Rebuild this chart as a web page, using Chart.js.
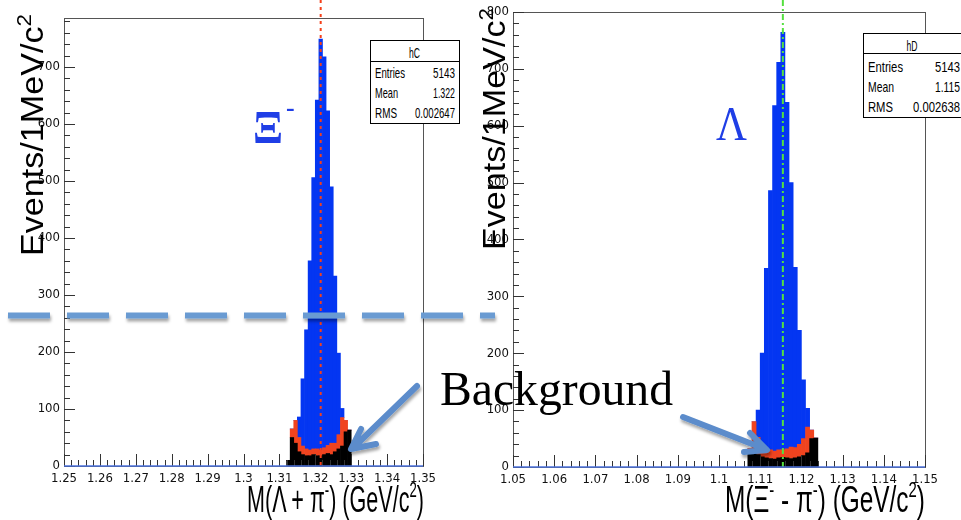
<!DOCTYPE html>
<html>
<head>
<meta charset="utf-8">
<script src="https://cdn.jsdelivr.net/npm/chart.js@4.4.1/dist/chart.umd.min.js"></script>
<style>
  body { margin: 0; background: #fff; }
  #wrap { position: relative; width: 961px; height: 520px; overflow: hidden; }
  canvas { position: absolute; top: 0; }
  #left { left: 0; }
  #right { left: 480px; }
  #notes { position: absolute; left: 0; top: 0; pointer-events: none; }
  #notes text { font-family: 'Liberation Sans', Arial, sans-serif; }
  #notes .serif { font-family: 'Liberation Serif', 'Times New Roman', serif; }
</style>
</head>
<body>
<div id="wrap">
<canvas id="left" width="480" height="520"></canvas>
<canvas id="right" width="481" height="520"></canvas>

<svg id="notes" width="961" height="520" viewBox="0 0 961 520">
  <defs>
    <filter id="shadow" filterUnits="userSpaceOnUse" x="0" y="0" width="961" height="520">
      <feDropShadow dx="1" dy="3" stdDeviation="1.8" flood-color="#000" flood-opacity="0.35"/>
    </filter>
  </defs>

  <!-- stat boxes -->
  <g font-size="15" fill="#000">
    <rect x="370.5" y="40.5" width="89" height="83" fill="#fff" stroke="#000"/>
    <line x1="370.5" y1="61.5" x2="459.5" y2="61.5" stroke="#000"/>
    <text x="414.5" y="58" text-anchor="middle" textLength="11" lengthAdjust="spacingAndGlyphs">hC</text>
    <text x="375" y="78" textLength="30" lengthAdjust="spacingAndGlyphs">Entries</text>
    <text x="455" y="78" text-anchor="end" textLength="22" lengthAdjust="spacingAndGlyphs">5143</text>
    <text x="375" y="98" textLength="23" lengthAdjust="spacingAndGlyphs">Mean</text>
    <text x="455" y="98" text-anchor="end" textLength="22" lengthAdjust="spacingAndGlyphs">1.322</text>
    <text x="375" y="118" textLength="22" lengthAdjust="spacingAndGlyphs">RMS</text>
    <text x="455" y="118" text-anchor="end" textLength="40" lengthAdjust="spacingAndGlyphs">0.002647</text>

    <rect x="863.5" y="33.5" width="120" height="84" fill="#fff" stroke="#000"/>
    <line x1="863.5" y1="53.5" x2="961" y2="53.5" stroke="#000"/>
    <text x="912" y="51" text-anchor="middle" textLength="11" lengthAdjust="spacingAndGlyphs">hD</text>
    <text x="868" y="72" textLength="35" lengthAdjust="spacingAndGlyphs">Entries</text>
    <text x="960" y="72" text-anchor="end" textLength="25" lengthAdjust="spacingAndGlyphs">5143</text>
    <text x="868" y="92" textLength="26" lengthAdjust="spacingAndGlyphs">Mean</text>
    <text x="960" y="92" text-anchor="end" textLength="25" lengthAdjust="spacingAndGlyphs">1.115</text>
    <text x="868" y="112" textLength="25" lengthAdjust="spacingAndGlyphs">RMS</text>
    <text x="960" y="112" text-anchor="end" textLength="47" lengthAdjust="spacingAndGlyphs">0.002638</text>
  </g>

  <!-- axis titles -->
  <g font-size="32" fill="#000">
    <text transform="translate(43,256) rotate(-90)" textLength="242" lengthAdjust="spacingAndGlyphs">Events/1MeV/c<tspan dy="-12" font-size="21">2</tspan></text>
    <text transform="translate(505,250) rotate(-90)" textLength="242" lengthAdjust="spacingAndGlyphs">Events/1MeV/c<tspan dy="-12" font-size="21">2</tspan></text>
  </g>
  <g font-size="36" fill="#000">
    <text x="247" y="512" textLength="177" lengthAdjust="spacingAndGlyphs">M(Λ + π<tspan dy="-15" font-size="22">-</tspan><tspan dy="15">) (GeV/c</tspan><tspan dy="-15" font-size="22">2</tspan><tspan dy="15">)</tspan></text>
    <text x="725" y="512" textLength="200" lengthAdjust="spacingAndGlyphs">M(Ξ<tspan dy="-15" font-size="22">-</tspan><tspan dy="15"> - π</tspan><tspan dy="-15" font-size="22">-</tspan><tspan dy="15">) (GeV/c</tspan><tspan dy="-15" font-size="22">2</tspan><tspan dy="15">)</tspan></text>
  </g>

  <!-- slide labels -->
  <text class="serif" x="253" y="143" font-size="46" font-weight="bold" fill="#1f3ee6" textLength="30" lengthAdjust="spacingAndGlyphs">Ξ</text>
  <text class="serif" x="286" y="116" font-size="26" font-weight="bold" fill="#1f3ee6">-</text>
  <text class="serif" x="716" y="140" font-size="48" fill="#1f3ee6" textLength="31" lengthAdjust="spacingAndGlyphs">Λ</text>
  <text class="serif" x="440" y="405" font-size="48" fill="#000" textLength="233" lengthAdjust="spacingAndGlyphs">Background</text>

  <!-- dashed cut line and arrows -->
  <g filter="url(#shadow)" fill="none" stroke="#6b9bd2" stroke-linecap="butt">
    <line x1="8" y1="315.5" x2="495" y2="315.5" stroke-width="6" stroke-dasharray="42 17"/>
  </g>
  <g filter="url(#shadow)" fill="none" stroke="#5b8ccb" stroke-width="6" stroke-linecap="round" stroke-linejoin="round">
    <path d="M417,386 L353,448 M361,429 L351,449 L376,444"/>
    <path d="M683,417 L765,449 M750,433 L767,450 L744,452"/>
  </g>
</svg>
</div>

<script>
// left histogram: M(Lambda + pi-), 1 MeV bins (bin centres, GeV/c^2)
const leftMass = [1.3125, 1.3135, 1.3145, 1.3155, 1.3165, 1.3175, 1.3185, 1.3195, 1.3205,
                  1.3215, 1.3225, 1.3235, 1.3245, 1.3255, 1.3265, 1.3275, 1.3285, 1.3295];
const leftBlack = [10, 50, 40, 25, 20, 18, 18, 20, 18, 18, 20, 22, 20, 25, 30, 35, 60, 63];
const leftRed   = [0, 15, 40, 25, 15, 12, 10, 10, 12, 10, 12, 14, 20, 15, 25, 50, 20, 0];
const leftBlue  = [0, 0, 0, 36, 118, 209, 332, 476, 612, 721, 686, 587, 450, 293, 143, 16, 0, 0];
const leftMean = 1.3215;

// right histogram: M(Xi- - pi-)
const rightMass = [1.1075, 1.1085, 1.1095, 1.1105, 1.1115, 1.1125, 1.1135, 1.1145, 1.1155,
                   1.1165, 1.1175, 1.1185, 1.1195, 1.1205, 1.1215, 1.1225, 1.1235];
const rightBlack = [25, 25, 22, 18, 16, 15, 14, 16, 17, 16, 15, 16, 18, 20, 25, 50, 51];
const rightRed   = [8, 55, 30, 20, 14, 15, 14, 14, 13, 16, 20, 18, 22, 30, 45, 15, 0];
const rightBlue  = [0, 0, 48, 162, 319, 456, 607, 681, 734, 609, 465, 317, 200, 103, 33, 0, 0];
const rightMean = 1.1155;

const tickFont = { family: "'Liberation Sans Narrow', 'DejaVu Sans Condensed', sans-serif", size: 13 };

// ROOT style frame: ticks pointing inwards, mean line
const rootAxes = {
  id: 'rootAxes',
  afterDatasetsDraw(chart, args, o) {
    const ctx = chart.ctx, a = chart.chartArea;
    const x = chart.scales.x, y = chart.scales.y;
    ctx.save();

    const mx = x.getPixelForValue(o.mean);
    ctx.strokeStyle = o.meanColor;
    ctx.lineWidth = 2;
    ctx.setLineDash(o.meanDash);
    ctx.beginPath();
    ctx.moveTo(mx, 0);
    ctx.lineTo(mx, a.bottom);
    ctx.stroke();
    ctx.setLineDash([]);

    ctx.lineWidth = 1;
    ctx.strokeStyle = '#555';
    ctx.strokeRect(Math.round(a.left) + 0.5, Math.round(a.top) + 0.5,
                   Math.round(a.right - a.left), Math.round(a.bottom - a.top));

    ctx.strokeStyle = '#333';
    ctx.beginPath();
    for (let i = 0; i * 20 <= y.max; i++) {
      const py = Math.round(y.getPixelForValue(i * 20)) + 0.5;
      const len = i % 5 === 0 ? 11 : 6;
      ctx.moveTo(a.left, py);
      ctx.lineTo(a.left + len, py);
    }
    const nx = Math.round((x.max - x.min) / 0.002);
    for (let i = 0; i <= nx; i++) {
      const px = Math.round(x.getPixelForValue(x.min + i * 0.002)) + 0.5;
      const len = i % 5 === 0 ? 12 : 6;
      ctx.moveTo(px, a.bottom);
      ctx.lineTo(px, a.bottom - len);
    }
    ctx.stroke();

    ctx.strokeStyle = '#4d72dc';
    ctx.lineWidth = 1.5;
    ctx.beginPath();
    ctx.moveTo(a.left, a.bottom);
    ctx.lineTo(a.right, a.bottom);
    ctx.stroke();
    ctx.restore();
  }
};

function drawHist(id, s) {
  const pts = arr => s.mass.map((m, i) => ({ x: m, y: arr[i] }));
  return new Chart(document.getElementById(id), {
    type: 'bar',
    data: {
      datasets: [
        { data: pts(s.black), backgroundColor: '#000000' },
        { data: pts(s.red), backgroundColor: '#f0431f' },
        { data: pts(s.blue), backgroundColor: '#0436f2' }
      ]
    },
    options: {
      responsive: false,
      animation: false,
      datasets: { bar: { barPercentage: 1, categoryPercentage: 1 } },
      layout: { padding: s.pad },
      plugins: {
        legend: { display: false },
        tooltip: { enabled: false },
        rootAxes: { mean: s.mean, meanColor: s.meanColor, meanDash: s.meanDash }
      },
      scales: {
        x: {
          type: 'linear', stacked: true, offset: false,
          min: s.xMin, max: s.xMax,
          grid: { display: false, drawTicks: false, offset: false },
          border: { display: false },
          ticks: {
            stepSize: 0.01, autoSkip: false, maxRotation: 0, padding: 5,
            font: tickFont, color: '#111',
            callback: v => String(parseFloat(v.toFixed(3)))
          },
          afterFit: sc => { sc.height = s.xHeight; }
        },
        y: {
          stacked: true, min: 0, max: s.yMax,
          grid: { display: false, drawTicks: false },
          border: { display: false },
          ticks: { stepSize: 100, includeBounds: false, padding: 4, font: tickFont, color: '#111' },
          afterFit: sc => { sc.width = s.yWidth; }
        }
      }
    },
    plugins: [rootAxes]
  });
}

drawHist('left', {
  mass: leftMass, black: leftBlack, red: leftRed, blue: leftBlue,
  xMin: 1.25, xMax: 1.35, yMax: 786,
  pad: { left: 0, right: 57, top: 18, bottom: 0 }, yWidth: 64, xHeight: 54,
  mean: leftMean, meanColor: '#f5401a', meanDash: [3, 4]
});

drawHist('right', {
  mass: rightMass, black: rightBlack, red: rightRed, blue: rightBlue,
  xMin: 1.05, xMax: 1.15, yMax: 800,
  pad: { left: 0, right: 36, top: 11, bottom: 0 }, yWidth: 33, xHeight: 53,
  mean: rightMean, meanColor: '#55e040', meanDash: [6, 3, 2, 3]
});
</script>
</body>
</html>
